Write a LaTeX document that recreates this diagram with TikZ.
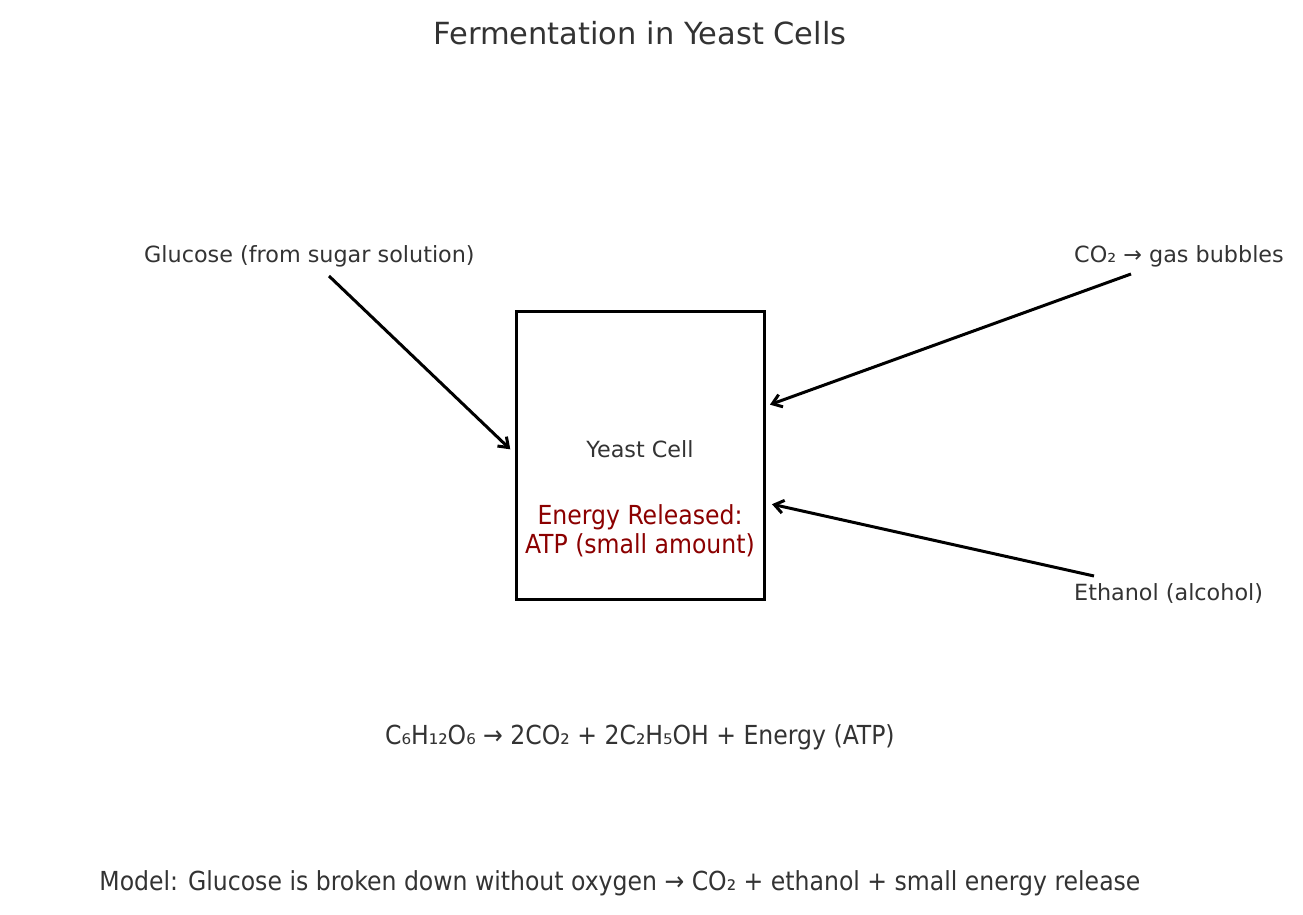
\documentclass[tikz,border=0pt]{standalone}
\usepackage{fontspec}
\setmainfont{DejaVu Sans}
\newfontfamily\condfont{DejaVu Sans Condensed}
\usetikzlibrary{arrows.meta}
\definecolor{txt}{HTML}{333333}
\definecolor{darkred}{HTML}{8B0000}
\begin{document}
\begin{tikzpicture}[x=1pt,y=-1pt,
  lbl/.style={text=txt,inner sep=0pt,font=\fontsize{22.3}{26}\selectfont},
  cond/.style={text=txt,inner sep=0pt,font=\condfont\fontsize{26.2}{29}\selectfont,align=center},
  flow/.style={-{Straight Barb[length=9pt,width=13pt]},line width=3pt,black,shorten >=1pt}]
\useasboundingbox (0,0) rectangle (1303,915);
\node[text=txt,inner sep=0pt,font=\fontsize{30.5}{34}\selectfont] (title) at (640,33) {Fermentation in Yeast Cells};
\node[draw,line width=3pt,minimum width=248pt,minimum height=288pt,inner sep=0pt] (cell) at (640,455) {};
\node[lbl] (yc) at (640,449) {Yeast Cell};
\node[cond,text=darkred] (energy) at (640,531) {Energy Released:\\ATP (small amount)};
\node[lbl,anchor=west] (glu) at (144,256) {Glucose (from sugar solution)};
\node[lbl,anchor=west] (co2) at (1074,256) {CO₂ → gas bubbles};
\node[lbl,anchor=west] (eth) at (1074,593) {Ethanol (alcohol)};
\node[cond] (eq) at (640,737) {C₆H₁₂O₆ → 2CO₂ + 2C₂H₅OH + Energy (ATP)};
\node[cond] (model) at (620,883) {Model: Glucose is broken down without oxygen → CO₂ + ethanol + small energy release};
\coordinate (g1) at (329,276);
\coordinate (g2) at (511,450);
\coordinate (c1) at (1131,274);
\coordinate (c2) at (769,405);
\coordinate (e1) at (1094,576);
\coordinate (e2) at (771,504);
\draw[flow] (g1) -- (g2);
\draw[flow] (c1) -- (c2);
\draw[flow] (e1) -- (e2);
\end{tikzpicture}
\end{document}
